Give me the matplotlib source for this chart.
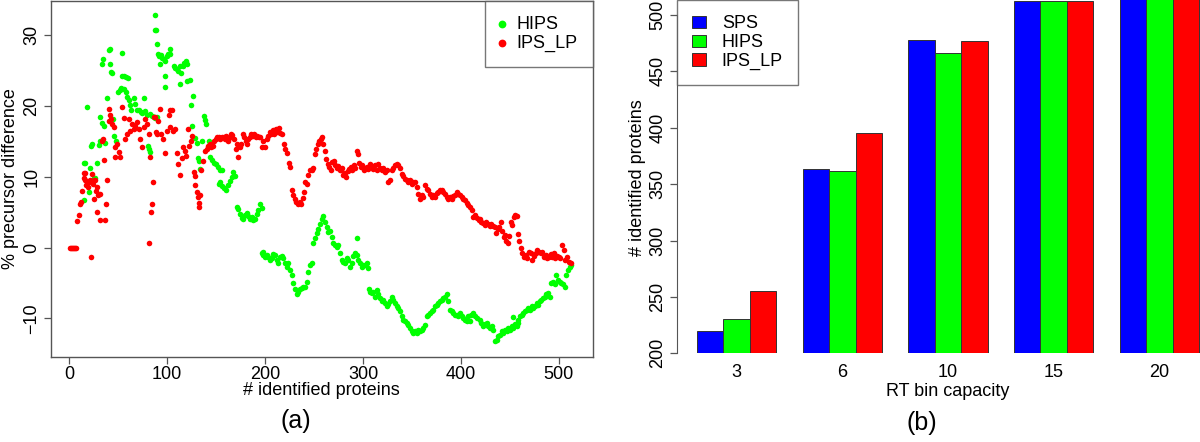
import matplotlib
matplotlib.use("Agg")
import matplotlib.pyplot as plt

plt.rcParams['font.family'] = ['Liberation Sans', 'DejaVu Sans']

# (a) % precursor difference vs # identified proteins
hips_pts = [
    (14.6, 6.7), (15.3, 11.9), (16.5, 12.0), (18, 19.8), (19.7, 7.8), (20.7, 11.2), (22.5, 14.4),
    (23.5, 14.6), (25, 9.9), (26.5, 9.8), (28.2, 11.9), (30.5, 14.5), (31.6, 15.1), (31.6, 18.4),
    (33.9, 17.6), (33.5, 25.9), (34.2, 26.7), (35.5, 17.2), (36.7, 14.8), (38.4, 21.2), (40.3, 27.9),
    (41.5, 28.1), (41.2, 25.9), (42.5, 24.8), (43.5, 24.6), (44.6, 18.1), (46, 15.8), (48, 15.1),
    (49.5, 22.0), (51.7, 22.3), (52.5, 22.6), (53.7, 27.5), (53.5, 24.2), (55.5, 24.3), (57.5, 24.1),
    (59.5, 23.9), (56, 22.4), (57.5, 22.0), (59, 21.3), (60.5, 20.8), (62, 20.2), (63.5, 19.5),
    (66.4, 21.1), (67.5, 20.3), (69, 19.5), (71, 19.4), (73, 19.2), (74.5, 19.0), (75.9, 21.2),
    (77.5, 19.3), (79, 18.7), (80.5, 14.3), (81.5, 14.0), (82.5, 13.5), (82.7, 18.9), (84, 18.6),
    (86.5, 18.5), (88, 18.3), (90, 18.5),
    (87.8, 32.9), (87.5, 30.7), (88.5, 30.7), (89.5, 28.7), (91, 27.3), (92, 27.0), (92.9, 25.9),
    (93.5, 27.2), (95, 26.8), (96.5, 26.6), (98, 26.4), (98, 24.3), (98, 22.7), (99.5, 27.0),
    (101, 27.3), (102.5, 28.0), (103, 27.4), (106.5, 25.7), (108, 25.4), (109.5, 25.2), (111, 25.0),
    (113, 25.7), (114.5, 24.7), (116, 25.7), (117.5, 26.1), (119, 26.4), (120.5, 25.9), (113.3, 23.1),
    (120, 23.6), (123, 23.7), (124.5, 20.2), (126, 21.4), (125, 17.2), (128, 15.5), (130, 14.8),
    (131, 12.7), (132, 12.3), (133.7, 11.1), (136, 15.0), (138, 18.6), (139, 18.0), (140, 17.4),
    (142.6, 15.1), (143.5, 14.8), (144, 12.8), (146, 12.4), (148, 12.0), (150, 11.8), (152, 11.4),
    (154, 11.0), (155.8, 10.9),
    (152.4, 9.0), (154, 9.2), (156, 8.7), (158, 8.4), (160, 8.1), (162, 8.8), (164, 9.4), (166, 10.0),
    (167.5, 10.7), (169.4, 10.1),
    (171, 5.8), (172.7, 5.4), (174.4, 4.8), (176, 4.2), (177.8, 4.1), (179.5, 4.6), (181, 4.9),
    (183, 4.4), (184.6, 4.1), (186.3, 4.3), (188, 3.9), (189.7, 4.1), (191.4, 4.8), (193, 5.3),
    (194.9, 6.2), (196.5, 5.6),
    (196.5, -0.8), (197.5, -1.0), (198.3, -0.6), (200, -1.3), (201.7, -1.0), (203.4, -1.3),
    (205, -1.7), (206.8, -1.5), (208.5, -0.9), (210.2, -1.0), (211.9, -1.7), (213.6, -2.2),
    (215.3, -1.3), (217, -1.2), (218.7, -1.5), (220.4, -2.2), (222.1, -2.7), (223.8, -2.2),
    (225.5, -3.1), (227.2, -3.8), (228.9, -5.0), (230.6, -5.9), (232.3, -6.6), (234, -6.2),
    (235.7, -5.9), (237.4, -5.7), (239, -5.5), (240.8, -5.5), (242.5, -4.8), (244.2, -3.4),
    (245.9, -2.4), (247.6, -2.2),
    (249.3, 0.6), (251, 1.3), (252.7, 2.0), (254.4, 2.7), (256.1, 3.4), (257.8, 4.1), (259.5, 4.4),
    (261.2, 3.65), (262.9, 2.95), (264.6, 2.25), (266.3, 2.4), (268, 1.55), (269.7, 0.6),
    (271.4, 0.4), (273.1, 0.14), (274.8, 0.4), (276.5, -0.8), (278.2, -1.7), (279.9, -2.0),
    (281.6, -2.2), (283.3, -1.5), (285, -1.7), (286.7, -2.7), (288.4, -2.2), (290.1, -1.2),
    (291.8, -0.8), (293.5, -1.0), (294, 1.3), (295.2, -1.7), (296.9, -2.2), (298.6, -2.7),
    (300.3, -2.4), (302, -2.4), (303.7, -2.2), (305.4, -2.9),
    (306.5, -5.9), (307.1, -6.2), (308.8, -6.4), (310.5, -6.2), (312.2, -6.9), (313.9, -6.0),
    (315.6, -6.6), (317.3, -7.1), (319, -7.6), (320.7, -7.4), (322.4, -7.8), (324.1, -8.3),
    (325.8, -8.0), (327.5, -7.6), (329.2, -6.9), (330.9, -7.35), (332.6, -7.8), (334.3, -8.3),
    (336, -8.5), (337.7, -9.0), (339.4, -9.7), (341.1, -10.2), (342.8, -10.4), (344.5, -10.6),
    (346.2, -10.9), (347.9, -11.3), (349.6, -11.8), (351.3, -12.0), (353, -11.8), (354.7, -12.0),
    (356.4, -11.6), (358.1, -11.8), (359.8, -11.6), (361.5, -11.3), (363.2, -10.9), (364.9, -9.7),
    (366.6, -9.45), (368.3, -9.2), (370, -9.0), (371.7, -8.75), (373.4, -8.3), (375.1, -8.05),
    (376.8, -7.8), (378.5, -7.6), (380.2, -7.35), (381.9, -7.1), (383.6, -6.9), (385.3, -6.6),
    (387, -7.6), (388.7, -8.8), (390.4, -9.0), (392.1, -9.2), (393.8, -9.45), (395.5, -9.45),
    (397.2, -9.7), (398.9, -9.2), (400.6, -9.7), (402.3, -9.9), (404, -10.2), (405.7, -10.4),
    (407.4, -9.7), (409.1, -10.4), (410.8, -9.45), (412.6, -9.2),
    (414, -9.7), (416, -10.0), (419.4, -10.2), (421, -10.6), (423, -11.1), (425, -10.8),
    (426.5, -10.6), (428, -11.1), (429.6, -11.3), (431.3, -11.1), (433, -11.6),
    (434.7, -13.2), (436.4, -13.0), (438, -12.5), (439.8, -12.3), (441.5, -11.8), (443.2, -12.0),
    (444.9, -11.6), (446.6, -11.8), (448.3, -11.3), (450, -11.6), (451.7, -11.1), (453.4, -9.8),
    (453.4, -11.3), (455.1, -10.8), (456.8, -11.1), (458.5, -10.6), (458.5, -10.2), (460.2, -9.7),
    (461.9, -9.45), (463.6, -9.2), (465.3, -9.0), (467, -8.75), (468.7, -8.5), (470.4, -8.75),
    (472.1, -8.3), (473.8, -8.5), (475.5, -8.3), (477.2, -7.8), (478.9, -8.05), (480.6, -7.6),
    (482.3, -7.35), (484, -7.1), (485.7, -6.9), (487.4, -6.6), (489.1, -6.4), (490.8, -6.9),
    (492.5, -5.0), (494.2, -4.8), (495.9, -5.2), (497.6, -3.8), (499.3, -4.6), (501, -4.8),
    (502.7, -5.0), (504.4, -5.2), (506.1, -5.5), (507.8, -3.8), (509.5, -3.1), (511.2, -2.7),
    (512.9, -2.4),
]

ips_lp_pts = [
    (1, 0), (2, 0), (3, 0), (4, 0), (5, 0), (6, 0), (7, 0), (7.8, 3.7), (9.5, 4.6), (10.5, 6.2),
    (11.9, 6.5), (12.9, 8.0), (14.6, 10.5), (15.5, 9.8), (16.3, 10.5), (16.3, 9.6), (17.2, 8.9),
    (18.1, 9.2), (19, 8.6), (19.8, 9.2), (21.4, 9.5), (22.1, -1.3), (23.1, 10.4), (24, 9.0),
    (24.8, 9.5), (24.8, 6.9), (26.5, 9.5), (27.3, 8.0), (28.2, 8.6), (28.2, 5.0), (29.5, 7.4),
    (30.9, 3.9), (31.6, 7.6), (33.3, 15.1), (34.5, 15.4), (35, 12.4), (36, 3.9), (37.4, 6.2),
    (38.4, 9.6), (40.1, 19.6), (40.1, 17.9), (41.5, 18.8), (43, 18.2), (44, 17.5), (45.2, 17.0),
    (46.9, 14.2), (47, 12.8), (48.6, 14.7), (50.4, 13.5), (52, 12.8), (53.7, 19.8), (55.4, 18.3),
    (57.1, 15.3), (58.8, 16.0), (60.5, 18.1), (62.2, 16.5), (63.9, 17.4), (65.6, 16.8), (67.3, 17.2),
    (69, 17.7), (70.8, 16.8), (72.4, 15.4), (74.1, 14.2), (75.8, 17.0), (77.5, 18.1), (79.2, 17.4),
    (80.9, 16.0), (81.9, 0.6), (82.7, 12.8), (83.3, 5.0), (84.4, 6.2), (85.4, 9.3), (86.5, 18.5),
    (87.8, 18.5), (88.9, 16.3), (89.4, 16.0), (91, 17.9), (93, 19.6), (94, 16.1), (96, 15.3),
    (98, 13.3), (100, 16.5), (101.5, 18.8), (103, 19.5), (104.5, 19.4), (103, 17.0), (106, 16.5),
    (108, 16.8), (110, 13.3), (111.5, 11.8), (113, 10.2), (115, 12.6), (116.6, 14.2), (118, 13.6),
    (119, 13.0), (121.7, 16.8), (122, 14.3), (124, 15.0), (125, 15.7), (126.9, 10.7), (128, 10.1),
    (128.6, 8.8), (130, 7.8), (131, 7.2), (132, 5.8), (132.7, 6.3), (133.7, 7.4), (135, 11.0),
    (137, 12.3), (139, 13.6), (140.5, 14.0), (142, 14.4), (143.5, 14.7), (145, 14.2), (146.5, 14.3),
    (148, 15.1), (149.5, 15.4), (151, 15.6), (152.5, 15.6), (154, 15.4), (155.8, 15.6), (157.5, 15.6),
    (159, 15.4), (160.5, 15.8), (162, 15.1), (163.5, 15.5), (165, 16.1), (166.5, 15.9), (168, 15.4),
    (170, 14.0), (171, 14.6), (172.8, 12.8), (174, 14.2), (175.5, 14.7), (177, 16.1), (178.5, 15.6),
    (180, 15.1), (181.5, 14.7), (183, 15.3), (184.5, 15.6), (186, 16.0), (187.5, 15.8), (189, 16.1),
    (190.5, 15.6), (192, 15.8), (194, 15.6), (195, 15.6), (196.5, 14.2), (198, 15.0), (200, 14.2),
    (201.5, 15.4), (203, 15.8), (205, 16.4), (206.5, 16.1), (208, 16.6), (209.5, 16.0), (211, 16.8),
    (212.5, 16.4), (214, 16.9), (215.5, 16.2), (217, 16.0), (219, 14.7), (220.5, 14.0), (222, 13.3),
    (224, 11.9), (225.5, 11.4), (227, 8.1), (228.7, 7.4), (230.4, 6.9), (232, 6.5), (233.8, 6.2),
    (235.5, 6.4), (237, 6.2), (238.5, 7.0), (240, 7.8), (241, 9.2), (242.5, 9.0), (244, 10.3),
    (245.8, 10.9), (247.6, 10.9), (249.3, 11.3), (250.5, 13.2), (252, 13.9), (253.7, 14.7),
    (255.4, 15.1), (257, 15.3), (257.8, 15.6), (259.5, 14.7), (261, 13.6), (262.5, 12.5), (264, 11.8),
    (265.5, 11.4), (267, 11.0), (268.5, 12.1), (270, 12.3), (271.5, 11.6), (273, 11.2), (274.5, 11.5),
    (276, 11.0), (277.5, 10.9), (279, 11.3), (280, 10.3), (281.5, 10.6), (283, 10.0), (284.5, 10.8),
    (286, 11.1), (287.5, 11.4), (289, 11.0), (290.5, 11.6), (292, 11.3), (293.5, 13.7), (294.5, 13.2),
    (296, 11.9), (297.5, 11.4), (299, 11.7), (300.5, 11.0), (302, 11.3), (303.7, 11.4), (305.3, 11.1),
    (307, 11.85), (308.7, 11.5), (310.5, 11.15), (312.2, 11.6), (313.9, 10.9), (315.6, 11.85),
    (317.3, 11.2), (319, 10.9), (320.7, 11.3), (322.4, 10.7), (324.1, 10.9), (325.8, 9.3),
    (327.5, 9.5), (329.2, 10.9), (330.9, 11.3), (332.6, 11.6), (334.3, 11.8), (336, 11.6),
    (337.7, 11.2), (339.5, 10.45), (341.2, 10.1), (342.9, 9.75), (344.6, 9.5), (346.3, 9.3),
    (348, 9.6), (349.7, 9.05), (351.4, 9.2), (353.1, 9.3), (354.8, 8.6), (356.5, 7.6), (358.2, 6.9),
    (360, 7.4), (361.6, 7.2), (363.3, 8.8), (365, 8.3), (366.7, 8.1), (368.4, 7.6), (370.1, 7.2),
    (371.8, 7.5), (373.5, 7.2), (375.2, 7.7), (377, 7.9), (378.7, 8.2), (380.4, 8.1), (382.1, 7.8),
    (383.8, 7.6), (385.5, 7.2), (387.2, 6.9), (388.9, 7.1), (390.6, 6.9), (392.3, 7.3), (394, 7.4),
    (395.7, 7.8), (397.4, 7.6), (399.1, 7.4), (400.8, 7.2), (402.5, 6.9), (404.2, 6.7), (405.9, 6.3),
    (407.6, 6.0), (409.3, 5.8), (411, 5.3), (412.7, 4.3), (414.5, 4.6), (416, 4.2), (418, 3.9),
    (419.5, 4.0), (421, 3.6), (423, 3.5), (424.5, 3.2), (426, 3.6), (428, 3.4), (429.5, 3.1),
    (431, 3.3), (433, 3.0), (434.5, 2.9), (436, 2.0), (437.5, 2.6), (439, 2.95), (440.5, 3.65),
    (442, 2.3), (443.5, 1.55), (445, 1.8), (446.5, 1.0), (448, 0.6), (449.5, 1.7), (451, 3.6),
    (452.5, 3.2), (454, 4.3), (455.5, 4.6), (457, 4.4), (458, 1.9), (459, 1.0), (460.9, -0.1),
    (462.6, -0.8), (464.3, -1.3), (466, -1.0), (467.7, -1.5), (469.4, -0.6), (471.1, -0.8),
    (472.8, -1.7), (474.5, -1.2), (476.2, -0.8), (477.9, -0.3), (479.6, -0.6), (481.3, -0.8),
    (483, -0.6), (484.7, -1.3), (486.4, -1.0), (488.1, -1.5), (489.8, -1.3), (491.5, -0.9),
    (493.2, -1.3), (494.9, -0.8), (496.6, -1.5), (498.3, -1.2), (500, -1.3), (501.7, -1.5),
    (503.4, 0.4), (505.1, -0.3), (506.8, -1.7), (508.5, -1.3), (510.2, -2.0), (512, -2.2),
]

# (b) # identified proteins per RT bin capacity
rt_bins = ['3', '6', '10', '15', '20']
sps_counts = [220, 363, 478, 512, 514]
hips_counts = [230, 362, 466, 512, 514]
ips_lp_counts = [255, 395, 477, 512, 514]

W, H = 1200, 442
fig = plt.figure(figsize=(W / 100, H / 100), dpi=100)
FS = 13

# ---- panel (a) ----
ax1 = fig.add_axes([50.7 / W, (H - 356.7) / H, 542 / W, 356.2 / H])
hx, hy = zip(*hips_pts)
rx, ry = zip(*ips_lp_pts)
ax1.scatter(hx, hy, s=16, color='#00ff00', linewidths=0, label='HIPS', zorder=2)
ax1.scatter(rx, ry, s=16, color='#ff0000', linewidths=0, label='IPS_LP', zorder=3)
ax1.set_xlim(-19.0, 534.6)
ax1.set_ylim(-15.4, 34.9)
ax1.set_xticks([0, 100, 200, 300, 400, 500])
ax1.set_yticks([-10, 0, 10, 20, 30])
for s in ax1.spines.values():
    s.set_color('#555555')
    s.set_linewidth(1.0)
ax1.tick_params(direction='out', length=5, width=0.9, color='#555555', labelsize=FS, pad=1.5)
ax1.tick_params(axis='y', pad=2.5)
for lab in ax1.get_yticklabels():
    lab.set_rotation(90)
    lab.set_va('center')
ax1.set_xlabel('# identified proteins', fontsize=FS, va='center')
ax1.xaxis.set_label_coords(0.5, (356.7 - 391) / 356.7)
ax1.set_ylabel('% precursor difference', fontsize=FS, va='center', ha='center')
ax1.yaxis.set_label_coords((11 - 50.7) / 542, 0.5)
leg1 = ax1.legend(loc='upper right', bbox_to_anchor=(1, 1), borderaxespad=0, fontsize=FS,
                  frameon=True, fancybox=False, edgecolor='#555555', handletextpad=0.7,
                  labelspacing=0.1, borderpad=0.85, handlelength=0.2, markerscale=1.4)
leg1.get_frame().set_linewidth(1.0)

# ---- panel (b) ----
ax2 = fig.add_axes([677 / W, (H - 353.3) / H, 542 / W, 353.3 / H])
groups = range(len(rt_bins))
series = [(sps_counts, '#0000ff', 'SPS'), (hips_counts, '#00ff00', 'HIPS'),
          (ips_lp_counts, '#ff0000', 'IPS_LP')]
for j, (vals, col, name) in enumerate(series):
    xs = [1.5 + j + 4 * g for g in groups]
    ax2.bar(xs, [v - 200 for v in vals], bottom=200, width=1.0, color=col,
            edgecolor='#333333', linewidth=0.7, label=name)
ax2.set_xlim(0.24, 20.76)
ax2.set_ylim(200, 513.3)
ax2.set_xticks([2.5 + 4 * g for g in groups])
ax2.set_xticklabels(rt_bins)
ax2.set_yticks([200, 250, 300, 350, 400, 450, 500])
for side in ['top', 'right', 'bottom']:
    ax2.spines[side].set_visible(False)
ax2.spines['left'].set_bounds(200, 500)
ax2.spines['left'].set_color('#555555')
ax2.tick_params(axis='y', direction='out', length=5, width=0.9, color='#555555', labelsize=FS, pad=2.5)
ax2.tick_params(axis='x', length=0, labelsize=FS, pad=8)
for lab in ax2.get_yticklabels():
    lab.set_rotation(90)
    lab.set_va('center')
ax2.set_xlabel('RT bin capacity', fontsize=FS, va='center')
ax2.xaxis.set_label_coords(0.5, (353.3 - 391) / 353.3)
ax2.set_ylabel('# identified proteins', fontsize=FS, va='center', ha='center')
ax2.yaxis.set_label_coords((637 - 677) / 542, (353.3 - 178) / 353.3)
leg2 = ax2.legend(loc='upper left', bbox_to_anchor=(0, 1), borderaxespad=0, fontsize=FS,
                  frameon=True, fancybox=False, edgecolor='#555555', handletextpad=0.85,
                  labelspacing=0.1, borderpad=0.85, handlelength=0.78, handleheight=0.7)
leg2.get_frame().set_linewidth(1.0)

fig.text(296 / W, 1 - 421 / H, '(a)', fontsize=18, ha='center', va='center')
fig.text(922 / W, 1 - 423 / H, '(b)', fontsize=18, ha='center', va='center')

fig.savefig('out.png', dpi=100)
